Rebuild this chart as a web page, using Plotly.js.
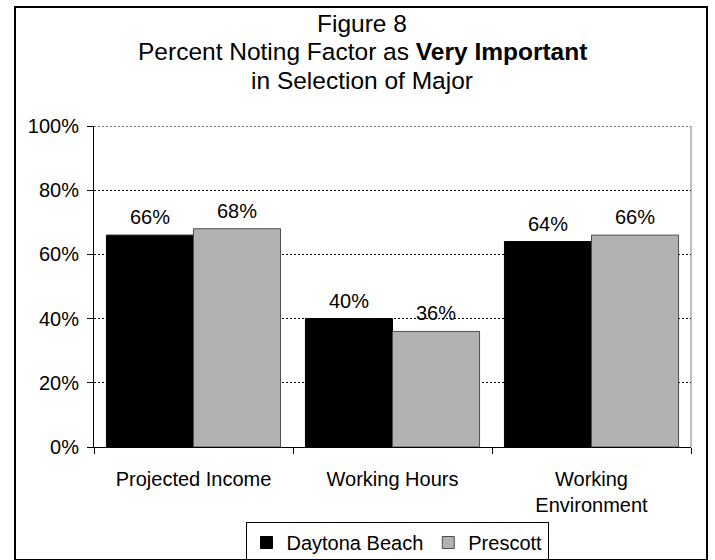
<!DOCTYPE html>
<html>
<head>
<meta charset="utf-8">
<script src="https://cdn.plot.ly/plotly-3.0.1.min.js"></script>
<style>
  html, body { margin: 0; padding: 0; background: #fff; }
  #wrap { position: relative; width: 715px; height: 560px; overflow: hidden; }
  #chart { position: absolute; left: 0; top: 0; width: 715px; height: 560px; }
  #frame { position: absolute; left: 14px; top: 6px; width: 690px; height: 551px; border: 2px solid #000; pointer-events: none; }
</style>
</head>
<body>
<div id="wrap">
  <div id="chart"></div>
  <div id="frame"></div>
</div>
<script>
const categories = ["Projected Income", "Working Hours", "Working<br>Environment"];
const daytonaBeach = [66, 40, 64];
const prescott = [68, 36, 66];
const seriesNames = ["Daytona Beach", "Prescott"];
const yTicks = [0, 20, 40, 60, 80, 100];
const yTickLabels = ["0%", "20%", "40%", "60%", "80%", "100%"];
const titleLines = ["Figure 8", "Percent Noting Factor as <b>Very Important</b>", "in Selection of Major"];

const FONT = "Liberation Sans, Arial, sans-serif";
const W = 715, H = 560;
const M = { l: 94, r: 24, t: 126, b: 113 };
const plotH = H - M.t - M.b;
const plotW = W - M.l - M.r;
const bargap = 0.125;
const halfW = (1 - bargap) / 4;
const yMax = yTicks[yTicks.length - 1];

const traces = [
  {
    type: "bar", name: seriesNames[0], x: categories, y: daytonaBeach,
    marker: { color: "#000000", line: { color: "#000000", width: 1 } },
    hoverinfo: "skip"
  },
  {
    type: "bar", name: seriesNames[1], x: categories, y: prescott,
    marker: { color: "#b2b2b2", line: { color: "#4d4d4d", width: 1 } },
    hoverinfo: "skip"
  }
];

const annotations = [];
[daytonaBeach, prescott].forEach((vals, s) => {
  vals.forEach((v, i) => {
    annotations.push({
      x: i + (s === 0 ? -halfW : halfW), y: v, xref: "x", yref: "y",
      text: v + "%", showarrow: false, yanchor: "bottom", yshift: 5,
      font: { family: FONT, size: 20, color: "#000" }
    });
  });
});

// title lines (pixel centres from the top of the picture)
const titleCenters = [24, 52, 80];
titleLines.forEach((t, k) => {
  annotations.push({
    x: (362 - M.l) / plotW, xref: "paper", xanchor: "center",
    y: (H - M.b - titleCenters[k]) / plotH, yref: "paper", yanchor: "middle",
    text: t, showarrow: false,
    font: { family: FONT, size: 24.5, color: "#000" }
  });
});

const layout = {
  width: W, height: H,
  margin: { l: M.l, r: M.r, t: M.t, b: M.b, pad: 0, autoexpand: false },
  paper_bgcolor: "rgba(0,0,0,0)", plot_bgcolor: "#fff",
  font: { family: FONT, size: 20, color: "#000" },
  barmode: "group", bargap: bargap, bargroupgap: 0,
  showlegend: true,
  legend: {
    orientation: "h", x: (397 - M.l) / plotW, xanchor: "center",
    y: 1 - 522 / H, yref: "container", yanchor: "top",
    bordercolor: "#000", borderwidth: 1, bgcolor: "#fff",
    font: { family: FONT, size: 20, color: "#000" },
    itemwidth: 30, traceorder: "normal"
  },
  xaxis: {
    type: "category", tickson: "boundaries", ticks: "outside", ticklen: 6,
    tickcolor: "#000", tickwidth: 1, showline: true, linecolor: "#000", linewidth: 1,
    showgrid: false, zeroline: false, fixedrange: true, automargin: false,
    ticklabelstandoff: 14,
    tickfont: { family: FONT, size: 20, color: "#000" }
  },
  yaxis: {
    range: [0, yMax], tickvals: yTicks, ticktext: yTickLabels,
    ticks: "outside", ticklen: 6, tickcolor: "#000", tickwidth: 1,
    showline: true, linecolor: "#000", linewidth: 1,
    showgrid: true, gridcolor: "#000", gridwidth: 1, griddash: "2px,2px",
    zeroline: false, fixedrange: true, automargin: false,
    ticklabelstandoff: 4,
    tickfont: { family: FONT, size: 20, color: "#000" }
  },
  shapes: [
    { type: "line", xref: "paper", yref: "paper", x0: 1, x1: 1, y0: 0, y1: 1,
      line: { color: "#808080", width: 1 }, layer: "below" },
    { type: "line", xref: "paper", yref: "y", x0: 0, x1: 1, y0: yMax, y1: yMax,
      line: { color: "#000", width: 1, dash: "2px,2px" }, layer: "above" }
  ],
  annotations: annotations
};

Plotly.newPlot("chart", traces, layout, { staticPlot: true, displayModeBar: false });
</script>
</body>
</html>
